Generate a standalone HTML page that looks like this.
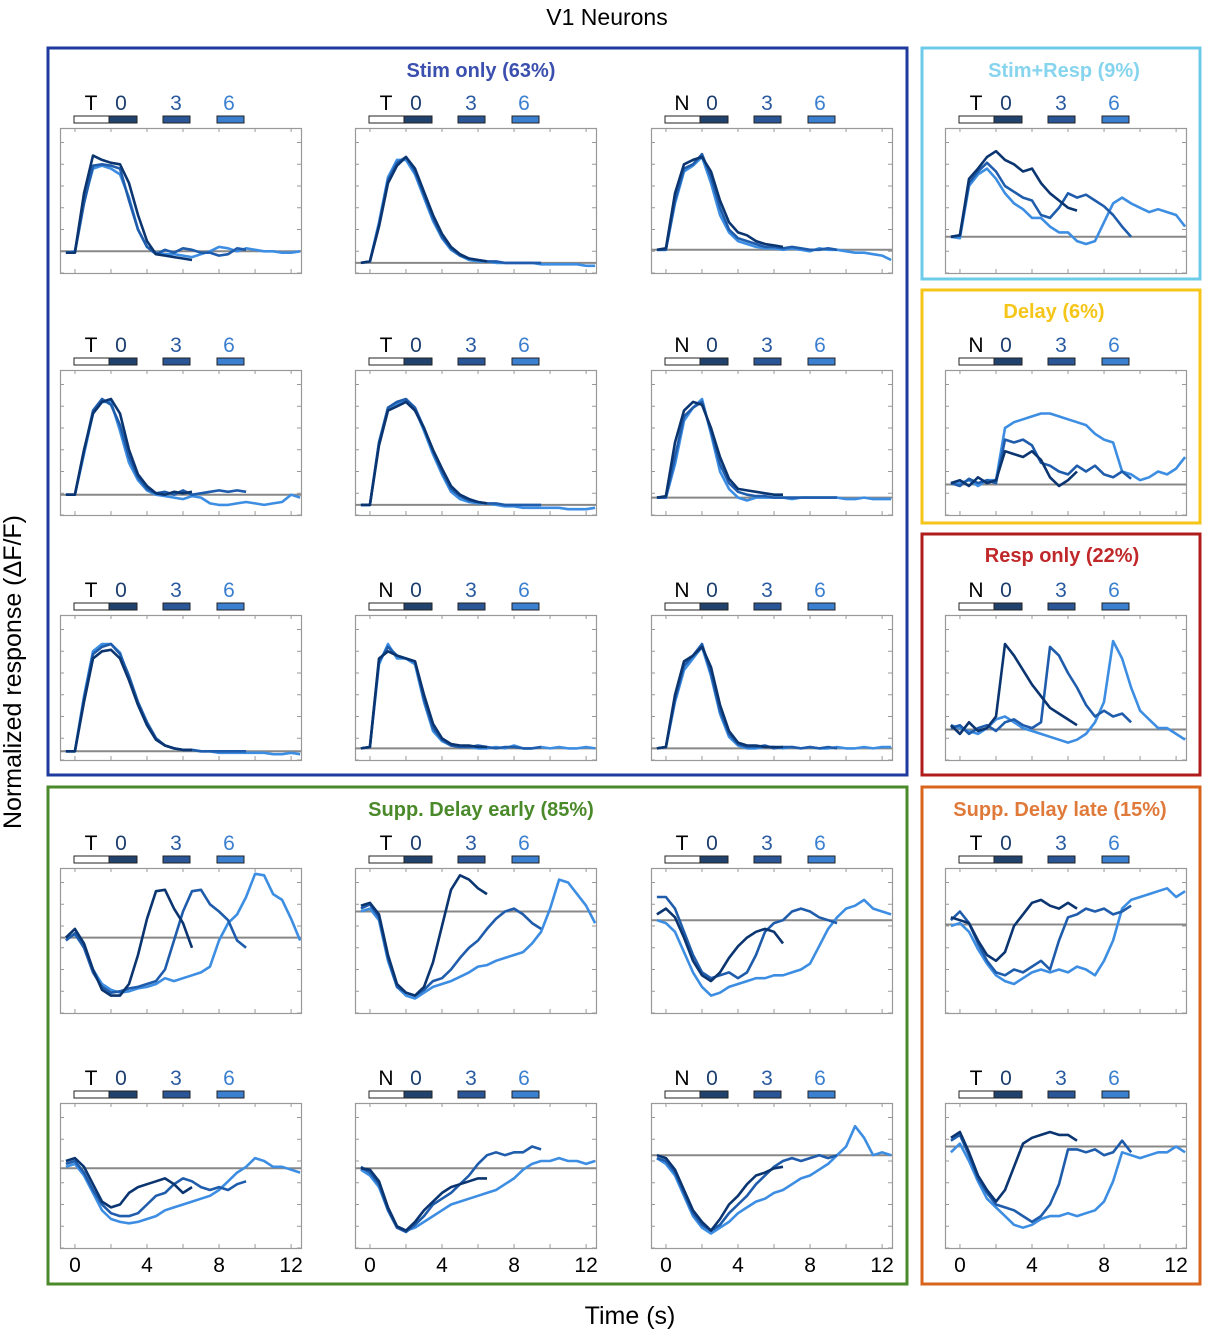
<!DOCTYPE html>
<html><head><meta charset="utf-8"><style>
body{margin:0;background:#fff;}
svg{display:block;font-family:"Liberation Sans",Arial,sans-serif;}
</style></head><body>
<svg id="fig" width="1209" height="1333" viewBox="0 0 1209 1333">
<text x="607" y="25" font-size="23" text-anchor="middle">V1 Neurons</text>
<text x="630" y="1324" font-size="25" text-anchor="middle">Time (s)</text>
<text transform="translate(21,672) rotate(-90)" font-size="25" text-anchor="middle">Normalized response (ΔF/F)</text>
<rect x="48" y="48" width="859" height="727" fill="none" stroke="#1f3a9e" stroke-width="3"/>
<rect x="922" y="48" width="278" height="231" fill="none" stroke="#6ccbe8" stroke-width="3"/>
<rect x="922" y="290" width="278" height="233" fill="none" stroke="#f5c518" stroke-width="3"/>
<rect x="922" y="534" width="278" height="241" fill="none" stroke="#b01c1c" stroke-width="3"/>
<rect x="48" y="787" width="859" height="497" fill="none" stroke="#4b8a2a" stroke-width="3"/>
<rect x="922" y="787" width="278" height="497" fill="none" stroke="#d8641e" stroke-width="3"/>
<text x="481" y="77" font-size="20" font-weight="bold" fill="#3a4fae" text-anchor="middle">Stim only (63%)</text>
<text x="1064" y="77" font-size="20" font-weight="bold" fill="#86d4ee" text-anchor="middle">Stim+Resp (9%)</text>
<text x="1054" y="318" font-size="20" font-weight="bold" fill="#f5c518" text-anchor="middle">Delay (6%)</text>
<text x="1062" y="562" font-size="20" font-weight="bold" fill="#c0282a" text-anchor="middle">Resp only (22%)</text>
<text x="481" y="816" font-size="20" font-weight="bold" fill="#4b8a2a" text-anchor="middle">Supp. Delay early (85%)</text>
<text x="1060" y="816" font-size="20" font-weight="bold" fill="#e07a3a" text-anchor="middle">Supp. Delay late (15%)</text>
</svg>
<script>
// time grid (s), step 0.5 from -0.5
const tStart = -0.5, tStep = 0.5;
const xTickLabels = [0, 4, 8, 12];
const cueLetters = ["T","T","N","T", "T","T","N","N", "T","N","N","N", "T","T","T","T", "T","N","N","T"];
const baselines = [15,7,16,25, 14,7,12,21, 6,8,8,21, 52,70,64,61, 55,55,64,70];
const darkSeries = [
[14,14,55,81,78,76,75,62,40,22,13,12,11,10,9],
[7,8,32,62,74,80,72,56,40,27,18,13,10,9,8],
[16,17,55,75,78,80,70,50,35,28,26,22,20,19,18],
[25,26,65,72,80,84,78,75,70,72,62,55,50,45,43],
[14,14,45,70,78,80,70,45,28,20,15,14,16,15,16],
[7,7,48,72,75,78,72,60,45,32,20,14,11,9,8],
[12,13,50,72,78,76,60,40,25,18,17,16,15,14,14],
[22,24,20,26,22,24,44,42,40,44,38,26,20,24,30],
[6,6,40,70,75,76,70,55,38,24,14,10,8,7,7],
[8,9,70,75,72,70,68,45,25,15,11,10,10,9,9],
[8,9,45,68,72,78,64,38,20,12,10,10,9,9,9],
[24,18,26,20,22,30,80,72,62,52,44,36,32,28,24],
[52,58,48,30,16,12,12,20,40,65,84,85,72,62,45],
[74,76,68,40,20,14,12,18,35,60,85,95,92,86,82],
[68,72,66,52,36,26,22,28,38,46,52,56,58,56,48],
[66,64,62,50,40,36,42,60,68,76,78,74,72,76,72],
[60,62,56,44,32,28,30,38,42,44,46,48,44,38,42],
[55,54,46,28,15,12,18,26,32,38,42,44,46,48,48],
[64,62,54,40,26,18,12,20,30,36,44,50,52,55,56],
[76,80,66,50,40,32,40,56,72,76,78,80,78,78,74]];
const midSeries = [
[14,14,48,74,75,74,72,50,30,18,13,16,14,17,16,14,14,12,13,17,16],
[7,8,33,64,76,80,70,54,38,25,17,12,10,9,8,8,7,7,7,7,7],
[16,16,50,72,75,82,66,45,30,24,22,20,18,18,17,18,17,16,16,17,16],
[25,26,62,70,76,70,60,56,52,50,40,38,45,55,52,54,50,46,40,32,25],
[14,14,44,72,80,76,62,40,26,18,15,16,14,17,14,15,16,17,16,17,16],
[7,7,50,74,78,80,74,60,44,30,18,13,10,9,8,8,7,7,7,7,7],
[12,12,40,68,74,78,58,35,22,16,14,13,13,12,12,12,12,12,12,12,12],
[22,20,25,22,24,22,52,50,52,48,36,34,30,28,34,30,34,28,26,30,25],
[6,6,42,73,78,80,73,58,40,26,15,10,8,7,7,6,6,6,6,6,6],
[8,9,68,78,72,70,68,42,22,14,10,9,9,10,9,8,9,9,8,8,9],
[8,9,42,65,72,80,60,34,18,11,9,9,10,8,9,9,8,9,8,9,8],
[22,24,18,22,24,20,26,28,24,22,26,78,72,60,50,38,30,34,30,32,26],
[50,55,45,28,18,14,15,17,18,20,22,30,50,70,84,85,75,70,64,50,45],
[72,75,66,38,18,14,12,16,22,24,30,38,45,50,58,65,70,72,68,62,58],
[80,80,72,56,40,28,24,26,28,24,28,40,56,62,64,70,72,70,66,64,62],
[64,70,62,48,36,28,26,30,28,32,36,30,50,66,68,72,70,72,68,70,74],
[58,60,52,40,30,24,22,22,24,30,36,38,44,48,46,42,40,42,40,44,46],
[56,52,44,26,14,11,16,22,30,34,38,44,50,58,64,66,64,66,66,70,68],
[62,60,52,38,24,16,12,16,24,30,36,44,50,56,60,62,60,62,64,62,64],
[74,78,64,48,38,30,28,26,22,18,22,30,44,68,68,66,68,64,66,74,66]];
const lightSeries = [
[14,15,50,72,74,72,68,52,30,18,14,13,13,12,11,13,15,18,17,15,17,16,15,15,14,14,15],
[7,8,35,66,78,78,68,52,36,24,16,12,9,8,8,7,7,7,7,7,6,6,6,6,6,5,5],
[16,16,48,70,74,80,62,40,28,22,20,18,17,17,16,17,16,15,17,16,16,15,14,14,13,12,9],
[25,24,60,68,72,65,55,48,44,38,38,32,28,28,22,20,22,35,48,52,48,45,42,44,42,40,32],
[14,14,42,70,78,78,58,36,24,17,14,13,12,11,13,12,8,7,7,8,9,8,7,8,9,14,12],
[7,7,50,74,77,79,73,58,42,28,16,11,9,8,8,7,6,6,5,5,5,5,5,4,4,4,5],
[12,12,35,65,74,80,56,30,18,12,10,12,12,12,12,11,12,12,12,12,12,11,11,12,11,11,11],
[22,22,24,20,24,24,60,64,66,68,70,70,68,66,64,62,56,52,50,30,28,24,26,30,28,32,40],
[6,6,44,75,80,80,74,56,38,24,14,10,8,7,7,6,6,5,5,5,5,5,5,4,4,5,4],
[8,9,66,80,70,70,66,40,20,13,10,9,9,8,8,9,8,10,8,8,9,8,9,8,8,9,8],
[8,9,40,62,70,78,58,32,16,10,8,8,9,9,8,9,8,9,8,8,9,8,8,9,8,9,9],
[24,22,20,18,22,28,30,26,22,20,18,16,14,12,14,18,26,40,82,70,50,34,28,22,22,18,14],
[52,54,46,30,20,16,14,15,17,18,20,24,22,24,26,28,32,50,62,68,80,96,95,82,78,65,50],
[70,72,64,36,18,12,10,14,18,20,22,25,28,32,33,36,38,40,42,48,56,72,92,90,82,74,62],
[64,62,56,42,28,18,12,14,18,20,22,24,24,26,26,28,30,34,46,58,66,72,74,78,72,70,68],
[60,62,56,44,34,26,22,20,24,28,30,28,30,28,32,30,26,36,50,72,78,80,82,84,86,80,84],
[56,58,50,38,26,20,18,17,18,20,22,26,28,30,32,34,36,40,46,52,56,62,60,56,56,54,52],
[54,50,42,26,14,12,14,18,22,26,30,32,34,36,38,40,44,48,54,58,60,60,62,60,60,58,60],
[62,58,50,36,22,14,10,14,18,24,28,32,34,38,40,44,48,50,54,58,64,70,84,76,64,66,64],
[66,72,60,46,34,28,22,16,14,16,20,22,22,24,22,24,26,32,46,66,64,62,64,66,66,70,66]];

const svg = document.getElementById('fig');
const NS = 'http://www.w3.org/2000/svg';
const colLeft = [60,355,651,945], rowTop = [128,370,615,868,1103], PW = 241, PH = 145;
const xMin = -0.83, xMax = 12.55, yMin = 0, yMax = 100;
const colors = ['#0b3570','#1f5cab','#3d8ee2'];
const numColors = ['#1c3d6e','#2a5aa0','#3b7fd0'];
function mk(tag, attrs){const e=document.createElementNS(NS,tag);for(const k in attrs)e.setAttribute(k,attrs[k]);return e;}
const defs = mk('defs',{}); svg.appendChild(defs);

for (let p = 0; p < 20; p++) {
  const r = Math.floor(p/4), c = p%4;
  const L = colLeft[c], T = rowTop[r];
  const xs = t => L + (t - xMin)/(xMax - xMin)*PW;
  const ys = v => T + (yMax - v)/(yMax - yMin)*PH;
  const g = mk('g',{});
  
  
  svg.appendChild(g);
  const cp = mk('clipPath',{id:'cp'+p}); cp.appendChild(mk('rect',{x:L,y:T,width:PW,height:PH})); defs.appendChild(cp);
  const hy = T - 18;
  const lt = mk('text',{x:L+31,y:hy,'font-size':21,'text-anchor':'middle',fill:'#000'}); lt.textContent = cueLetters[p];
    g.appendChild(lt);
  [['0',61],['3',116],['6',169]].forEach((d,i)=>{
    const tx = mk('text',{x:L+d[1],y:hy,'font-size':21,'text-anchor':'middle',fill:numColors[i]}); tx.textContent=d[0];
      g.appendChild(tx);
  });
  const by = T - 12;
  const wb = mk('rect',{x:L+14,y:by,width:35,height:7,fill:'#fff',stroke:'#222','stroke-width':1});
    g.appendChild(wb);
  [[49,28,'#22426e'],[103,27,'#2a5597'],[157,27,'#3b7fd0']].forEach((d,i)=>{
    const b = mk('rect',{x:L+d[0],y:by,width:d[1],height:7,fill:d[2],stroke:'#222','stroke-width':1});
      g.appendChild(b);
  });
  const box = mk('rect',{x:L+0.5,y:T+0.5,width:PW,height:PH,fill:'none',stroke:'#999','stroke-width':1.2});
    g.appendChild(box);
  for (let t = 0; t <= 12; t += 2) {
    g.appendChild(mk('line',{x1:xs(t),x2:xs(t),y1:T,y2:T+4,stroke:'#999','stroke-width':1}));
    g.appendChild(mk('line',{x1:xs(t),x2:xs(t),y1:T+PH,y2:T+PH-4,stroke:'#999','stroke-width':1}));
  }
  for (let v = 0; v <= 100; v += 15) {
    g.appendChild(mk('line',{x1:L,x2:L+4,y1:ys(v),y2:ys(v),stroke:'#999','stroke-width':1}));
    g.appendChild(mk('line',{x1:L+PW,x2:L+PW-4,y1:ys(v),y2:ys(v),stroke:'#999','stroke-width':1}));
  }
  const bl = mk('line',{x1:L,x2:L+PW,y1:ys(baselines[p]),y2:ys(baselines[p]),stroke:'#888','stroke-width':2});
    g.appendChild(bl);
  const sets = [lightSeries[p], midSeries[p], darkSeries[p]];
  const cols = [colors[2], colors[1], colors[0]];
  const names = ['trace-delay-6','trace-delay-3','trace-delay-0'];
  sets.forEach((arr,i)=>{
    const pts = arr.map((v,k)=> xs(tStart + k*tStep).toFixed(1)+','+ys(v).toFixed(1)).join(' ');
    const pl = mk('polyline',{points:pts,fill:'none',stroke:cols[i],'stroke-width':2.6,'stroke-linejoin':'round','clip-path':'url(#cp'+p+')'});
    
    
    g.appendChild(pl);
  });
  if (r === 4) {
    xTickLabels.forEach(v=>{
      const tl = mk('text',{x:xs(v),y:T+PH+24,'font-size':21,'text-anchor':'middle',fill:'#000'}); tl.textContent = v;
      
      
      g.appendChild(tl);
    });
  }
}
</script>
</body></html>
